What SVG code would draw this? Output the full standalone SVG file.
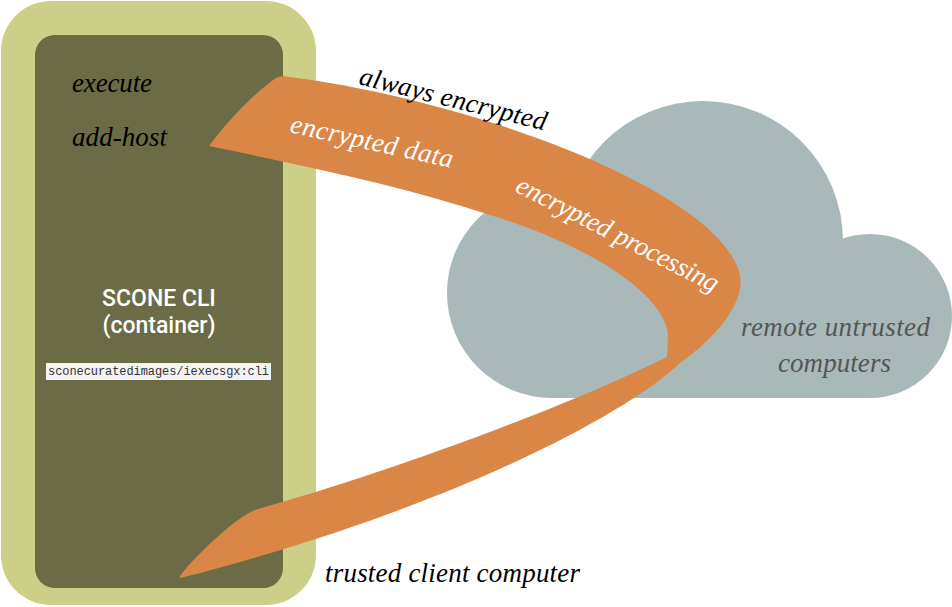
<svg xmlns="http://www.w3.org/2000/svg" width="952" height="607" viewBox="0 0 952 607">
<style>
.it{font-family:"Liberation Serif","Times New Roman",serif;font-style:italic;font-size:27px}
.lbl{fill:#000}
.wh{fill:#fff}
.gr{fill:#555}
.sans{font-family:Roboto,"Liberation Sans",sans-serif;font-weight:500;fill:#fff;font-size:23px;text-anchor:middle}
.mono{font-family:"Liberation Mono","DejaVu Sans Mono",monospace;font-size:12px;fill:#333}
</style>
<rect width="952" height="607" fill="#fff"/>
<g id="cloud" fill="#A9B9B9">
  <circle cx="552" cy="293" r="105"/>
  <circle cx="703" cy="241" r="140"/>
  <circle cx="870" cy="316" r="82"/>
  <rect x="552" y="300" width="318" height="98"/>
</g>
<g id="client">
  <rect x="1" y="1" width="315" height="604" rx="50" ry="50" fill="#CBCF88"/>
  <rect x="35" y="35" width="248" height="553" rx="20" ry="20" fill="#6B6C46"/>
  <text class="it lbl" x="72" y="92" textLength="80">execute</text>
  <text class="it lbl" x="72" y="146" textLength="95">add-host</text>
  <text class="sans" x="159" y="306">SCONE CLI</text>
  <text class="sans" x="159" y="333" font-size="21">(container)</text>
  <rect x="46" y="363" width="225" height="17" fill="#F3F3F3"/>
  <text class="mono" x="48" y="375" textLength="221">sconecuratedimages/iexecsgx:cli</text>
</g>
<g id="connectors">
  <path id="ribbon" fill="#D98646" d="M209,146 C230,118 258,90 276,78 Q281,75 290,77 C470,100 720,190 740,275 C745,300 720,335 680,363 C620,420 430,515 180,578 C176,576 230,520 255,510 C380,475 560,410 667,357 L668,335 C665,295 590,245 490,215 C400,185 300,165 209,146 Z"/>
</g>
<g id="labels">
  <text class="it lbl" transform="translate(358,84) rotate(14)" textLength="192">always encrypted</text>
  <text class="it wh" transform="translate(289,132) rotate(12.5)" textLength="166">encrypted data</text>
  <text class="it wh" transform="translate(514,191) rotate(27)" textLength="224">encrypted processing</text>
  <text class="it gr" x="741" y="336" textLength="189">remote untrusted</text>
  <text class="it gr" x="778" y="372" textLength="113">computers</text>
  <text class="it lbl" x="325" y="582" textLength="255">trusted client computer</text>
</g>
</svg>
